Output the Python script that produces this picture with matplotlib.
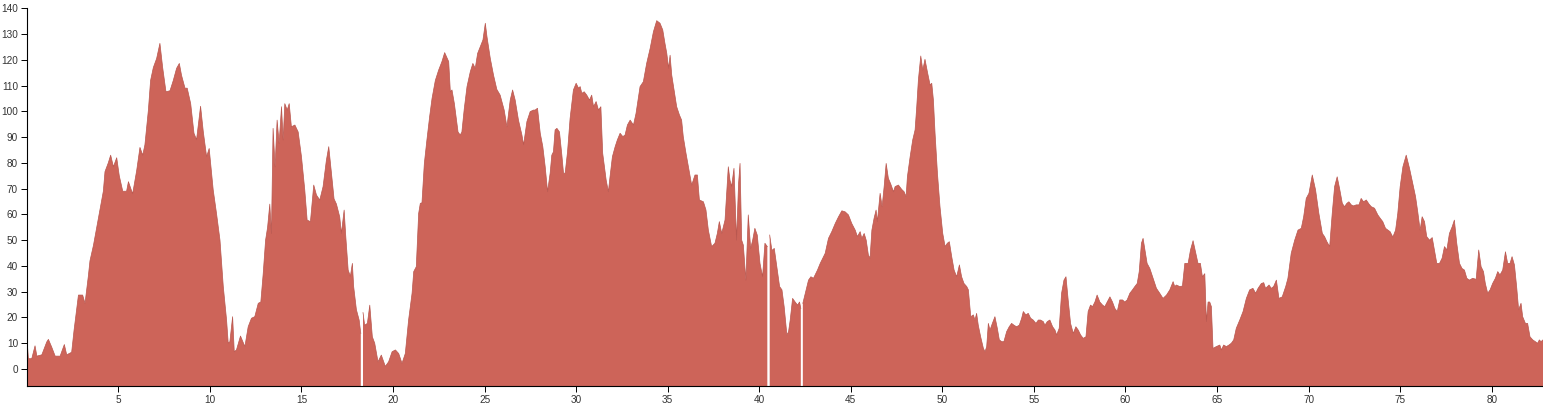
import numpy as np
import matplotlib.pyplot as plt

# ----- data: distance (x) and value (y) -----
dist_a = [0.00, 0.09, 0.27, 0.45, 0.55, 0.82, 1.09, 1.18, 1.36, 1.55, 1.82, 2.05, 2.18, 2.45,
          2.58, 2.82, 3.05, 3.18, 3.36, 3.45, 3.64, 3.82, 4.00, 4.18, 4.27, 4.45, 4.58, 4.73,
          4.91, 5.05, 5.24, 5.45, 5.55, 5.78, 6.00, 6.18, 6.33, 6.45, 6.64, 6.76, 6.91, 7.09,
          7.27, 7.42, 7.60, 7.82, 8.00, 8.18, 8.33, 8.45, 8.64, 8.76, 8.95, 9.13, 9.27, 9.49,
          9.64, 9.82, 9.96, 10.18, 10.36, 10.55, 10.73, 10.91, 11.00, 11.09, 11.24, 11.33,
          11.45, 11.67, 11.91, 12.09, 12.27, 12.45, 12.64, 12.78, 12.91, 13.04, 13.15, 13.27,
          13.36, 13.45, 13.56, 13.67, 13.78, 13.91, 14.00, 14.09, 14.22, 14.33, 14.45, 14.64,
          14.82, 15.00, 15.18, 15.31, 15.49, 15.67, 15.82, 16.00, 16.18, 16.36, 16.49, 16.64,
          16.78, 16.91, 17.09, 17.18, 17.33, 17.42, 17.55, 17.67, 17.78, 17.85, 18.00, 18.15,
          18.24, 18.36, 18.45, 18.60, 18.73, 18.87, 19.00, 19.18, 19.36, 19.58, 19.76, 19.95]
elev_a = [12.5, 4.0, 4.0, 9.0, 5.0, 5.5, 10.5, 11.5, 8.5, 5.0, 5.0, 9.5, 5.5, 6.5,
          15.0, 28.7, 28.7, 25.5, 36.0, 42.0, 48.0, 55.0, 62.0, 69.0, 76.6, 80.0, 83.0, 78.5,
          82.0, 75.0, 69.0, 69.0, 72.7, 68.0, 77.0, 86.0, 83.0, 87.0, 100.5, 112.0, 117.0, 120.5,
          126.4, 117.0, 107.6, 108.0, 112.0, 116.7, 118.6, 114.0, 109.0, 109.0, 103.0, 91.5, 89.0, 102.0,
          92.0, 82.4, 85.6, 69.5, 60.4, 50.0, 32.0, 19.0, 10.0, 10.6, 20.3, 6.7,
          7.4, 12.8, 8.7, 16.4, 19.7, 20.3, 25.5, 26.0, 37.0, 50.0, 55.0, 64.0,
          52.6, 93.4, 78.5, 96.6, 87.6, 101.8, 88.9, 103.0, 100.5, 103.0, 94.0, 94.7,
          92.0, 82.4, 69.5, 57.8, 57.2, 71.4, 67.5, 65.6, 70.8, 81.0, 86.3, 76.0,
          66.0, 64.0, 59.0, 52.6, 61.7, 51.4, 38.4, 36.0, 41.0, 32.0, 23.0, 19.0,
          13.8, 21.9, 17.0, 17.7, 24.8, 12.5, 10.0, 2.8, 5.4, 1.0, 2.8, 6.7]

dist_b = [20.13, 20.31, 20.49, 20.67, 20.85, 21.04, 21.13, 21.27, 21.40, 21.49, 21.58, 21.71,
          21.85, 22.00, 22.13, 22.31, 22.49, 22.67, 22.82, 23.04, 23.13, 23.22, 23.35, 23.55,
          23.67, 23.76, 23.89, 24.04, 24.22, 24.36, 24.49, 24.62, 24.76, 24.91, 25.04, 25.13,
          25.31, 25.49, 25.67, 25.85, 26.07, 26.22, 26.40, 26.53, 26.67, 26.85, 27.04, 27.13,
          27.31, 27.49, 27.67, 27.76, 27.89, 28.04, 28.18, 28.31, 28.44, 28.58, 28.67, 28.76,
          28.85, 28.95, 29.09, 29.22, 29.31, 29.40, 29.53, 29.67, 29.85, 30.00, 30.13, 30.22,
          30.31, 30.44, 30.58, 30.73, 30.85, 30.95, 31.09, 31.22, 31.35, 31.45, 31.64, 31.76,
          31.85, 31.98, 32.13, 32.25, 32.40, 32.55, 32.67, 32.80, 32.95, 33.13, 33.27, 33.49,
          33.67, 33.85, 34.04, 34.22, 34.40, 34.58, 34.73, 34.85, 34.95, 35.05, 35.13, 35.22,
          35.35, 35.49, 35.64, 35.76, 35.85, 36.00, 36.13, 36.31, 36.49, 36.62, 36.73, 36.95,
          37.09, 37.22, 37.40, 37.58, 37.71, 37.82, 37.95, 38.13, 38.31, 38.40, 38.49, 38.62,
          38.76, 38.87, 38.95, 39.04, 39.13, 39.27, 39.40, 39.53, 39.64, 39.76, 39.89, 40.04,
          40.18, 40.31, 40.44, 40.57, 40.69, 40.82, 40.96, 41.11, 41.24, 41.36, 41.51, 41.60,
          41.69, 41.82, 41.96, 42.09, 42.20, 42.27, 42.38, 42.56, 42.69, 42.82, 42.96, 43.05]
elev_b = [7.4, 6.0, 2.2, 6.0, 19.0, 29.4, 37.8, 39.7, 60.4, 64.3, 64.5, 79.8,
          88.9, 98.0, 105.0, 112.0, 116.0, 119.3, 122.8, 119.3, 107.6, 108.3, 103.0, 92.0,
          90.8, 92.0, 101.0, 109.6, 115.4, 118.6, 116.7, 122.5, 125.0, 127.7, 134.2, 129.0,
          120.6, 114.0, 108.5, 106.3, 100.5, 94.0, 104.4, 108.3, 104.4, 96.6, 90.8, 87.0,
          96.0, 99.9, 100.5, 100.5, 101.2, 91.5, 86.3, 78.5, 68.8, 76.0, 83.0, 84.3,
          92.8, 93.4, 92.0, 83.0, 76.0, 76.0, 84.3, 97.3, 108.3, 110.9, 109.0, 109.6,
          107.0, 107.6, 106.3, 104.4, 106.3, 101.8, 103.8, 100.5, 101.8, 83.7, 73.3, 68.8,
          74.6, 82.4, 86.3, 88.9, 91.5, 90.2, 90.8, 94.7, 96.6, 94.7, 99.2, 109.6,
          111.5, 118.6, 124.4, 130.9, 135.2, 134.2, 131.6, 126.4, 122.5, 116.7, 121.8, 114.1,
          108.3, 101.8, 98.6, 96.6, 90.2, 83.7, 78.5, 71.4, 75.3, 75.3, 65.6, 64.9,
          61.7, 53.9, 47.5, 48.8, 52.6, 57.2, 52.6, 57.8, 78.5, 73.3, 70.8, 77.9,
          50.0, 72.0, 79.8, 50.0, 48.1, 34.5, 59.8, 46.8, 50.0, 54.6, 52.0, 41.0,
          35.8, 48.8, 47.5, 52.0, 46.0, 46.8, 39.7, 32.0, 30.7, 24.2, 13.2, 14.5,
          19.0, 27.4, 26.0, 24.8, 26.0, 23.5, 25.5, 30.7, 34.5, 35.8, 35.2, 36.5]

dist_c = [43.18, 43.33, 43.47, 43.60, 43.78, 43.96, 44.15, 44.33, 44.51, 44.69, 44.87, 45.05,
          45.24, 45.36, 45.51, 45.60, 45.73, 45.84, 45.96, 46.05, 46.15, 46.27, 46.38, 46.45,
          46.60, 46.71, 46.82, 46.93, 47.05, 47.18, 47.33, 47.42, 47.60, 47.78, 47.91, 48.02,
          48.09, 48.24, 48.38, 48.51, 48.60, 48.69, 48.82, 48.93, 49.05, 49.18, 49.33, 49.42,
          49.51, 49.60, 49.73, 49.87, 50.02, 50.15, 50.27, 50.38, 50.51, 50.64, 50.78, 50.93,
          51.05, 51.18, 51.33, 51.42, 51.55, 51.69, 51.78, 51.87, 51.96, 52.09, 52.24, 52.33,
          52.42, 52.51, 52.60, 52.73, 52.87, 53.00, 53.11, 53.24, 53.36, 53.51, 53.65, 53.78,
          53.91, 54.05, 54.20, 54.33, 54.42, 54.56, 54.69, 54.82, 54.96, 55.11, 55.24, 55.36,
          55.51, 55.60, 55.73, 55.87, 56.02, 56.15, 56.24, 56.38, 56.51, 56.64, 56.75, 56.87,
          57.00, 57.15, 57.29, 57.42, 57.55, 57.69, 57.84, 57.96, 58.09, 58.20, 58.33, 58.45,
          58.60, 58.75, 58.87, 59.00, 59.15, 59.29, 59.42, 59.55, 59.69, 59.84, 59.96, 60.09,
          60.24, 60.38, 60.51, 60.64, 60.75, 60.87, 60.96, 61.05, 61.18, 61.33, 61.51]
elev_c = [38.4, 41.0, 43.0, 44.9, 50.7, 53.3, 56.5, 59.1, 61.4, 61.0, 59.8, 56.5,
          53.9, 51.4, 53.3, 50.7, 52.6, 50.0, 44.2, 43.0, 53.9, 58.5, 61.7, 57.2,
          68.2, 63.0, 70.8, 79.8, 74.0, 71.8, 68.8, 70.8, 71.4, 69.7, 68.8, 66.9,
          74.6, 82.4, 88.9, 92.8, 101.8, 112.2, 121.5, 116.0, 120.2, 115.4, 110.2, 110.9,
          104.4, 91.5, 76.0, 63.0, 52.6, 47.5, 48.8, 49.4, 43.6, 38.4, 35.8, 40.4,
          35.8, 33.2, 32.0, 30.7, 20.3, 21.0, 19.0, 21.6, 17.0, 12.5, 8.0, 6.7,
          8.7, 17.7, 15.1, 17.7, 20.3, 15.8, 11.3, 10.6, 10.6, 14.5, 16.4, 17.7,
          17.0, 16.4, 17.0, 19.7, 22.3, 21.0, 21.6, 19.7, 19.0, 17.7, 19.0, 19.0,
          18.4, 17.0, 18.4, 19.0, 16.4, 15.1, 13.2, 15.8, 29.4, 34.5, 35.8, 26.8,
          17.7, 13.8, 16.4, 15.1, 13.2, 11.9, 12.5, 22.3, 24.8, 24.2, 26.0, 28.7,
          26.0, 24.8, 24.2, 26.0, 28.0, 26.0, 23.5, 22.3, 26.8, 26.8, 26.0, 26.8,
          29.4, 30.7, 32.0, 33.2, 37.8, 48.8, 50.7, 46.8, 41.0, 39.0, 35.2]

dist_d = [61.69, 61.87, 62.05, 62.24, 62.42, 62.60, 62.69, 62.78, 62.96, 63.11, 63.24, 63.42,
          63.55, 63.69, 63.84, 63.96, 64.09, 64.20, 64.33, 64.42, 64.51, 64.60, 64.69, 64.78,
          64.96, 65.15, 65.24, 65.36, 65.51, 65.65, 65.78, 65.91, 66.05, 66.24, 66.42, 66.60,
          66.78, 66.96, 67.11, 67.24, 67.42, 67.55, 67.65, 67.84, 67.96, 68.09, 68.24, 68.38,
          68.56, 68.75, 68.87, 69.05, 69.24, 69.42, 69.60, 69.73, 69.87, 70.02, 70.20, 70.38,
          70.56, 70.75, 70.87, 71.00, 71.15, 71.29, 71.42, 71.56, 71.69, 71.84, 71.96, 72.09,
          72.20, 72.33, 72.45, 72.60, 72.75, 72.87, 73.00, 73.15, 73.29, 73.42, 73.60, 73.78,
          73.91, 74.05, 74.20, 74.33, 74.45, 74.60, 74.75, 74.87, 75.00, 75.15, 75.33, 75.51,
          75.69, 75.84, 75.96, 76.09, 76.20, 76.33, 76.45, 76.60, 76.75, 76.87, 77.00, 77.15,
          77.29, 77.42, 77.55, 77.69, 77.84, 77.96, 78.09, 78.24, 78.38, 78.51, 78.64, 78.78,
          78.96, 79.15, 79.29, 79.42, 79.55, 79.65, 79.78, 79.91, 80.05, 80.20, 80.33, 80.45,
          80.60, 80.75, 80.87, 81.00, 81.11, 81.24, 81.36, 81.47, 81.60, 81.69, 81.84, 81.96,
          82.09, 82.24, 82.38, 82.51, 82.60, 82.69, 82.80]
elev_d = [31.3, 29.4, 27.4, 28.7, 30.7, 33.9, 32.0, 32.6, 32.0, 32.2, 41.0, 41.0,
          46.2, 49.8, 44.9, 41.0, 41.0, 35.8, 37.0, 18.4, 26.0, 26.0, 24.2, 8.0,
          8.7, 9.3, 7.4, 9.3, 8.7, 9.3, 10.0, 11.3, 15.8, 19.0, 22.3, 27.4,
          30.7, 31.3, 29.4, 31.3, 33.2, 33.5, 31.3, 32.6, 31.3, 32.0, 34.5, 27.4,
          28.0, 32.0, 35.2, 44.9, 50.0, 53.9, 54.6, 59.1, 66.2, 68.2, 75.3, 69.5,
          60.4, 52.6, 51.4, 49.4, 47.5, 60.4, 70.8, 74.6, 70.1, 64.3, 63.0, 64.3,
          64.9, 63.7, 63.3, 63.7, 63.7, 66.2, 64.9, 65.6, 64.1, 63.0, 62.4, 59.8,
          58.5, 57.2, 54.6, 53.9, 53.3, 51.2, 53.9, 60.4, 70.8, 78.5, 83.0, 77.9,
          72.0, 66.9, 61.0, 53.9, 59.1, 57.2, 51.4, 50.0, 51.0, 46.2, 41.0, 41.0,
          43.0, 47.5, 46.2, 52.6, 55.2, 57.8, 48.8, 41.0, 39.0, 38.4, 35.2, 34.5,
          35.2, 34.8, 46.2, 39.7, 37.8, 33.2, 29.4, 30.7, 33.2, 35.2, 37.8, 36.5,
          38.4, 45.5, 41.0, 41.0, 43.6, 40.4, 32.0, 23.0, 25.5, 20.3, 17.7, 17.7,
          12.5, 11.3, 10.6, 10.0, 11.3, 10.6, 11.3]

# places where the series has no data (thin white gaps)
gaps = [18.30, 40.50, 42.32]

x_ticks = [5, 10, 15, 20, 25, 30, 35, 40, 45, 50, 55, 60, 65, 70, 75, 80]
y_ticks = [0, 10, 20, 30, 40, 50, 60, 70, 80, 90, 100, 110, 120, 130, 140]

# ----- build series -----
dist = np.array(dist_a + dist_b + dist_c + dist_d)
elev = np.array(elev_a + elev_b + elev_c + elev_d)
for g in gaps:
    i = np.searchsorted(dist, g)
    dist = np.insert(dist, i, g)
    elev = np.insert(elev, i, np.nan)

plt.rcParams['font.family'] = ['Liberation Sans', 'DejaVu Sans']

fig = plt.figure(figsize=(15.43, 4.07), dpi=100)
ax = fig.add_axes([26.8 / 1543, 21 / 407, 1 - 26.8 / 1543, (386 - 8.3) / 407])

y_min = -6.6
ax.fill_between(dist, elev, y_min, color='#CD6459', linewidth=0)
ax.plot(dist, elev, color='#B9574F', linewidth=0.5)

ax.set_xlim(0, 82.8)
ax.set_ylim(y_min, 140)
ax.set_xticks(x_ticks)
ax.set_yticks(y_ticks)

for side in ['top', 'right']:
    ax.spines[side].set_visible(False)
for side in ['left', 'bottom']:
    ax.spines[side].set_linewidth(0.8)
    ax.spines[side].set_color('black')

ax.tick_params(axis='both', direction='out', length=4.3, width=0.7, colors='black',
               labelsize=7.2, labelcolor='#333333', pad=2)

fig.savefig('out.png', dpi=100)
